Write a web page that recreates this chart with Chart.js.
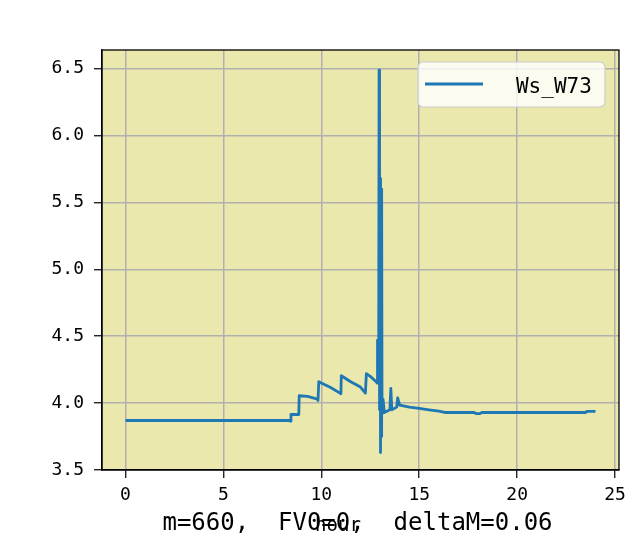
<!DOCTYPE html>
<html>
<head>
<meta charset="utf-8">
<script src="https://cdn.jsdelivr.net/npm/chart.js@4.4.1/dist/chart.umd.min.js"></script>
<style>
  html, body { margin: 0; padding: 0; background: #ffffff; }
  #wrap { width: 633px; height: 553px; }
</style>
</head>
<body>
<div id="wrap"><canvas id="wsChart" width="633" height="553"></canvas></div>
<script>
// Ws_W73 over one day
const hours = [
    0, 8.4, 8.42, 8.45, 8.85, 8.87, 9.3, 9.8, 9.83, 9.87,
    10.0, 10.5, 10.95, 11.0, 11.02, 11.5, 12.0, 12.25, 12.3, 12.5,
    12.8, 12.85, 12.87, 12.9, 12.93, 12.95, 12.96, 12.97, 12.99, 13.0,
    13.01, 13.02, 13.04, 13.06, 13.08, 13.1, 13.15, 13.22, 13.5, 13.55,
    13.6, 13.85, 13.9, 14.0, 14.5, 15.0, 15.5, 16.0, 16.3, 17.8,
    17.9, 18.1, 18.2, 23.5, 23.55, 24.0
];
const wsW73 = [
    3.87, 3.87, 3.865, 3.915, 3.915, 4.055, 4.05, 4.03, 4.02, 4.16,
    4.15, 4.115, 4.075, 4.07, 4.205, 4.16, 4.12, 4.075, 4.22, 4.2,
    4.16, 4.15, 4.47, 4.17, 4.3, 6.49, 4.1, 5.69, 3.95, 5.68,
    3.9, 3.63, 5.65, 3.75, 5.6, 3.92, 4.03, 3.93, 3.95, 4.11,
    3.95, 3.97, 4.04, 3.985, 3.97, 3.96, 3.95, 3.94, 3.93, 3.93,
    3.922, 3.922, 3.93, 3.93, 3.938, 3.938
];
const xTickValues = [0, 5, 10, 15, 20, 25];
const yTickValues = [3.5, 4.0, 4.5, 5.0, 5.5, 6.0, 6.5];
const seriesLabel = 'Ws_W73';
const xAxisLabel = 'hour';
const captionText = 'm=660,  FV0=0,  deltaM=0.06';

const lineColor = '#1f77b4';
const monoFont = '"DejaVu Sans Mono", "Liberation Mono", monospace';

Chart.defaults.font.family = monoFont;
Chart.defaults.color = '#000000';

// Plot background, full frame, legend box and bottom texts
const framePlugin = {
    id: 'framePlugin',
    beforeDraw(chart) {
        const ctx = chart.ctx;
        const a = chart.chartArea;
        ctx.save();
        ctx.fillStyle = '#ffffff';
        ctx.fillRect(0, 0, chart.width, chart.height);
        ctx.fillStyle = '#ebe8ae';
        ctx.fillRect(a.left, a.top, a.right - a.left, a.bottom - a.top);
        ctx.restore();
    },
    afterDraw(chart) {
        const ctx = chart.ctx;
        const a = chart.chartArea;
        ctx.save();
        // frame
        ctx.strokeStyle = '#000000';
        ctx.lineWidth = 1.3;
        ctx.strokeRect(a.left, a.top, a.right - a.left, a.bottom - a.top);

        // legend
        const boxW = 187, boxH = 45;
        const bx = a.right - 14 - boxW;
        const by = a.top + 12;
        ctx.beginPath();
        ctx.roundRect(bx, by, boxW, boxH, 5);
        ctx.fillStyle = 'rgba(255,255,255,0.8)';
        ctx.fill();
        ctx.strokeStyle = '#cccccc';
        ctx.lineWidth = 1.2;
        ctx.stroke();
        ctx.beginPath();
        ctx.moveTo(bx + 7, by + 22);
        ctx.lineTo(bx + 65, by + 22);
        ctx.strokeStyle = chart.data.datasets[0].borderColor;
        ctx.lineWidth = 2.8;
        ctx.stroke();
        ctx.fillStyle = '#000000';
        ctx.font = '21px ' + monoFont;
        ctx.textBaseline = 'alphabetic';
        ctx.textAlign = 'left';
        ctx.fillText(chart.data.datasets[0].label, bx + 98, by + 31);

        // bottom texts (they overlap in the original)
        ctx.font = '24px ' + monoFont;
        ctx.textAlign = 'center';
        ctx.fillText(captionText, (a.left + a.right) / 2 - 3, 530);
        ctx.font = '19px ' + monoFont;
        ctx.fillText(xAxisLabel, 338, 531);
        ctx.restore();
    }
};

const ctx = document.getElementById('wsChart').getContext('2d');
const chart = new Chart(ctx, {
    type: 'line',
    data: {
        datasets: [{
            label: seriesLabel,
            data: hours.map((h, i) => ({ x: h, y: wsW73[i] })),
            borderColor: lineColor,
            backgroundColor: lineColor,
            borderWidth: 2.8,
            borderJoinStyle: 'round',
            pointRadius: 0,
            tension: 0,
            fill: false
        }]
    },
    options: {
        responsive: false,
        animation: false,
        devicePixelRatio: 1,
        layout: {
            padding: { left: 0, top: 50, right: 13, bottom: 0 }
        },
        plugins: {
            legend: { display: false },
            title: { display: false },
            tooltip: { enabled: false }
        },
        scales: {
            x: {
                type: 'linear',
                min: -1.2,
                max: 25.2,
                afterBuildTicks: scale => {
                    scale.ticks = xTickValues.map(v => ({ value: v }));
                },
                afterFit: scale => { scale.height = 83; },
                grid: {
                    color: '#b0b0b0',
                    lineWidth: 1.5,
                    tickColor: '#000000',
                    tickLength: 8,
                    tickWidth: 1.2
                },
                border: { display: true, color: '#000000', width: 1.3 },
                ticks: {
                    font: { size: 18 },
                    padding: 7,
                    maxRotation: 0,
                    callback: v => String(v)
                }
            },
            y: {
                type: 'linear',
                min: 3.5,
                max: 6.64,
                afterBuildTicks: scale => {
                    scale.ticks = yTickValues.map(v => ({ value: v }));
                },
                afterFit: scale => { scale.width = 102; },
                grid: {
                    color: '#b0b0b0',
                    lineWidth: 1.5,
                    tickColor: '#000000',
                    tickLength: 8,
                    tickWidth: 1.2
                },
                border: { display: true, color: '#000000', width: 1.3 },
                ticks: {
                    font: { size: 18 },
                    padding: 10,
                    callback: v => Number(v).toFixed(1)
                }
            }
        }
    },
    plugins: [framePlugin]
});
</script>
</body>
</html>
